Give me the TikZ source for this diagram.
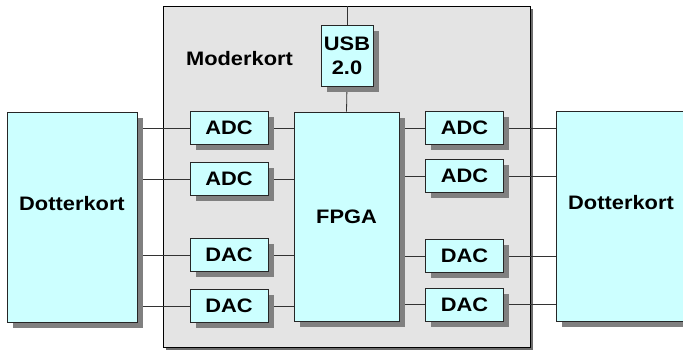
\documentclass[tikz,border=0pt]{standalone}
\usepackage{fontspec}
\setmainfont{Liberation Sans}[FakeStretch=1.12]
\usepackage{tikz}
\usetikzlibrary{positioning,shadows,backgrounds}
\definecolor{boardgray}{HTML}{E4E4E4}
\definecolor{chipcyan}{HTML}{CCFFFF}
\definecolor{shadegray}{HTML}{808080}

\begin{document}
\begin{tikzpicture}[
        x=1pt, y=-1pt,
        node distance=17pt,
        every node/.style={font=\fontsize{19.5}{24}\selectfont\bfseries, inner sep=0pt},
        board/.style={rectangle, draw=black, fill=boardgray, line width=0.9pt,
            drop shadow={shadow xshift=3pt, shadow yshift=-3pt, fill=shadegray!85!black, opacity=1}},
        chip/.style={rectangle, draw=black!85, fill=chipcyan, line width=0.9pt,
            minimum width=78pt, minimum height=33pt,
            drop shadow={shadow xshift=5.5pt, shadow yshift=-5.5pt, fill=shadegray, opacity=1}},
        wire/.style={draw=black!80, line width=0.8pt}
    ]
    \useasboundingbox (0,0) rectangle (683,351);

    % Mother board
    \begin{pgfonlayer}{background}
    \node (mod) [board, minimum width=367pt, minimum height=341pt] at (346.5,176.5) {};
    \end{pgfonlayer}
    \node (modlbl) at (239.5,59) {Moderkort};

    % Daughter boards
    \node (LD) [chip, minimum width=130pt, minimum height=210pt] at (72,217) {};
    \node (LDlbl) at ([yshift=13pt]LD.center) {Dotterkort};
    \node (RD) [chip, minimum width=130pt, minimum height=210pt] at (621,216) {};
    \node (RDlbl) at ([yshift=13pt]RD.center) {Dotterkort};

    % FPGA and USB
    \coordinate (top) at (347,6);
    \node (FPGA) [chip, minimum width=105pt, minimum height=209pt] at (346.5,216.5) {FPGA};
    \node (USB) [chip, minimum width=52pt, minimum height=61pt, align=center] at (347,55.5) {USB\\2.0};

    % Left converters
    \node (LA1) [chip] at (229,128) {ADC};
    \node (LA2) [chip, below=of LA1] {ADC};
    \node (LD1) [chip] at (229,255) {DAC};
    \node (LD2) [chip, below=of LD1] {DAC};

    % Right converters
    \node (RA1) [chip] at (464.5,128) {ADC};
    \node (RA2) [chip] at (464.5,176) {ADC};
    \node (RD1) [chip] at (464.5,256) {DAC};
    \node (RD2) [chip] at (464.5,304.5) {DAC};

    % Wires (behind the chips, above the board)
    \begin{pgfonlayer}{background}
    \foreach \c in {LA1,LA2,LD1,LD2} {
        \draw[wire] (\c.west -| LD.east) -- (\c.west);
        \draw[wire] (\c.east) -- (\c.east -| FPGA.west);
    }
    \foreach \c in {RA1,RA2,RD1,RD2} {
        \draw[wire] (\c.west -| FPGA.east) -- (\c.west);
        \draw[wire] (\c.east) -- (\c.east -| RD.west);
    }
    \draw[wire] (top) -- (USB.north);
    \draw[wire] (USB.south) -- (FPGA.north);
    \end{pgfonlayer}

\end{tikzpicture}
\end{document}
